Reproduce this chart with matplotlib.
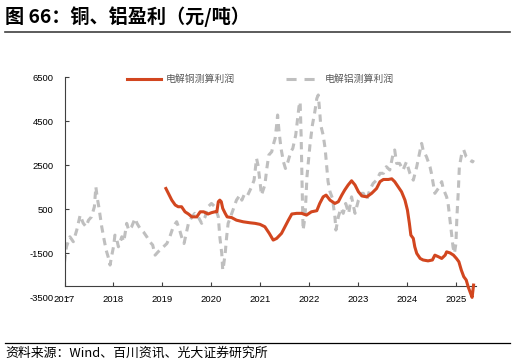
import matplotlib
matplotlib.use("Agg")
import matplotlib.pyplot as plt
from matplotlib.lines import Line2D

plt.rcParams['font.family'] = ['Liberation Sans', 'Noto Sans CJK SC', 'DejaVu Sans']

# aluminium profit (yuan/t), x in decimal years
al_x = [2017.00, 2017.04, 2017.11, 2017.18, 2017.25, 2017.32, 2017.38, 2017.44, 2017.49, 2017.55,
        2017.61, 2017.64, 2017.67, 2017.70, 2017.76, 2017.81, 2017.85, 2017.89, 2017.93, 2017.96,
        2018.00, 2018.03, 2018.07, 2018.10, 2018.17, 2018.21, 2018.27, 2018.31, 2018.37, 2018.44,
        2018.48, 2018.54, 2018.61, 2018.68, 2018.74, 2018.80, 2018.85, 2018.91, 2018.95, 2019.02,
        2019.09, 2019.15, 2019.22, 2019.29, 2019.35, 2019.39, 2019.44, 2019.47, 2019.53, 2019.60,
        2019.66, 2019.73, 2019.80, 2019.87, 2019.93, 2020.00, 2020.07, 2020.14, 2020.17, 2020.21,
        2020.23, 2020.24, 2020.28, 2020.31, 2020.34, 2020.39, 2020.45, 2020.51, 2020.58, 2020.62,
        2020.68, 2020.74, 2020.82, 2020.87, 2020.92, 2020.95, 2020.99, 2021.02, 2021.09, 2021.13,
        2021.17, 2021.23, 2021.26, 2021.30, 2021.33, 2021.35, 2021.38, 2021.42, 2021.47, 2021.51,
        2021.56, 2021.62, 2021.66, 2021.72, 2021.76, 2021.79, 2021.81, 2021.83, 2021.84, 2021.85,
        2021.87, 2021.91, 2021.95, 2022.01, 2022.06, 2022.11, 2022.15, 2022.18, 2022.21, 2022.23,
        2022.28, 2022.32, 2022.35, 2022.38, 2022.42, 2022.47, 2022.52, 2022.54, 2022.59, 2022.64,
        2022.69, 2022.74, 2022.80, 2022.86, 2022.93, 2023.00, 2023.07, 2023.10, 2023.17, 2023.23,
        2023.30, 2023.37, 2023.44, 2023.51, 2023.57, 2023.64, 2023.71, 2023.74, 2023.78, 2023.84,
        2023.91, 2023.98, 2024.05, 2024.12, 2024.19, 2024.26, 2024.29, 2024.32, 2024.39, 2024.46,
        2024.49, 2024.56, 2024.63, 2024.70, 2024.73, 2024.80, 2024.83, 2024.87, 2024.90, 2024.93,
        2024.96, 2024.99, 2025.01, 2025.04, 2025.06, 2025.11, 2025.15, 2025.20, 2025.27, 2025.33,
        2025.35]
al_y = [-1900, -1200, -745, -970, -440, 240, -120, -290, 10, 160,
        620, 1530, 1000, 620, -290, -895, -1350, -1650, -2030, -1650,
        -1200, -670, -895, -1200, -745, -970, -135, -440, -290, 90,
        -135, -360, -520, -745, -970, -1120, -1580, -1430, -1350, -1200,
        -1050, -745, -290, -60, -440, -745, -1050, -745, -135, 160,
        320, 160, -135, 160, 620, 770, 620, 160, -745, -1500,
        -2260, -2180, -1500, -745, -135, 160, 545, 920, 1150, 920,
        1230, 1150, 1530, 1830, 2820, 2510, 1760, 1150, 1610, 2360,
        2970, 3120, 3420, 3730, 4330, 4790, 4030, 3270, 2660, 2360,
        2660, 3120, 3270, 3880, 4640, 5240, 5390, 3880, 2660, 1610,
        -440, 160, 2000, 3420, 4330, 4940, 5540, 5700, 4940, 4330,
        3880, 3270, 2510, 1760, 1300, 1000, 160, -440, 160, 545,
        320, 770, 320, 1070, 320, 920, 1230, 1230, 920, 1380,
        1680, 1830, 2140, 2140, 2440, 2290, 3050, 3200, 2590, 2590,
        2290, 2660, 2140, 1830, 2440, 3200, 3500, 3200, 2890, 2440,
        2140, 1230, 1450, 1760, 1450, 1070, 770, 10, -590, -1200,
        -1500, -1050, 160, 1380, 2440, 3050, 3200, 2890, 2740, 2660,
        2740]

# copper profit (yuan/t)
cu_x = [2019.07, 2019.12, 2019.19, 2019.26, 2019.32, 2019.39, 2019.46, 2019.53, 2019.60, 2019.70,
        2019.77, 2019.84, 2019.93, 2020.00, 2020.07, 2020.11, 2020.14, 2020.17, 2020.20, 2020.23,
        2020.28, 2020.32, 2020.41, 2020.51, 2020.65, 2020.79, 2020.89, 2020.99, 2021.09, 2021.18,
        2021.26, 2021.33, 2021.43, 2021.50, 2021.57, 2021.64, 2021.74, 2021.84, 2021.94, 2022.04,
        2022.15, 2022.21, 2022.28, 2022.34, 2022.42, 2022.52, 2022.59, 2022.66, 2022.72, 2022.79,
        2022.86, 2022.93, 2023.00, 2023.07, 2023.17, 2023.27, 2023.37, 2023.44, 2023.51, 2023.61,
        2023.68, 2023.74, 2023.81, 2023.88, 2023.95, 2024.00, 2024.04, 2024.07, 2024.12, 2024.15,
        2024.19, 2024.26, 2024.32, 2024.42, 2024.51, 2024.56, 2024.63, 2024.70, 2024.77, 2024.80,
        2024.87, 2024.94, 2025.00, 2025.05, 2025.10, 2025.15, 2025.20, 2025.24, 2025.29, 2025.32,
        2025.35]
cu_y = [1450, 1230, 920, 700, 620, 620, 390, 290, 160, 160,
        390, 390, 290, 350, 390, 390, 850, 920, 850, 545,
        320, 160, 130, 10, -65, -110, -135, -180, -290, -590,
        -895, -820, -590, -290, 10, 290, 320, 320, 240, 390,
        440, 770, 1070, 1150, 920, 770, 850, 1150, 1380, 1610,
        1800, 1610, 1300, 1110, 1070, 1230, 1450, 1760, 1860, 1860,
        1890, 1760, 1530, 1300, 920, 470, -135, -670, -820, -1200,
        -1500, -1730, -1800, -1840, -1800, -1580, -1650, -1730, -1580, -1430,
        -1480, -1580, -1730, -1880, -2260, -2560, -2710, -3020, -3320, -3500,
        -2940]

years = [2017, 2018, 2019, 2020, 2021, 2022, 2023, 2024, 2025]
yticks = [-3500, -1500, 500, 2500, 4500, 6500]

al_color = "#BFBFBF"
cu_color = "#D2461F"

fig = plt.figure(figsize=(5.16, 3.64), dpi=100)
ax = fig.add_axes([0.125, 0.183, 0.7975, 0.6044])

ax.plot(al_x, al_y, color=al_color, lw=2.2, dashes=(2.4, 1.8), zorder=2)
ax.plot(cu_x, cu_y, color=cu_color, lw=2.2, zorder=3, clip_on=False)

ax.set_xlim(2017, 2025.4)
ax.set_ylim(-3500, 6500)
ax.set_xticks(years)
ax.set_xticklabels([str(y) for y in years])
ax.set_yticks(yticks)
ax.set_yticklabels([str(v) for v in yticks])

for s in ["top", "right"]:
    ax.spines[s].set_visible(False)
ax.spines["bottom"].set_position(("data", -3000))
ax.spines["left"].set_bounds(-3000, 6500)
for s in ["bottom", "left"]:
    ax.spines[s].set_color("#404040")
    ax.spines[s].set_linewidth(0.8)
ax.tick_params(axis="both", direction="in", length=3, width=0.8, color="#404040",
               labelsize=6.8, labelcolor="#000000")
ax.tick_params(axis="x", pad=6)
ax.tick_params(axis="y", pad=8)

# legend proxies (legend dashes are longer than on the dense series)
cu_h = Line2D([], [], color=cu_color, lw=2.2)
al_h = Line2D([], [], color=al_color, lw=2.2, dashes=(3.3, 2.6))
leg = ax.legend(handles=[cu_h, al_h], labels=["电解铜测算利润", "电解铝测算利润"],
                loc="upper center", bbox_to_anchor=(0.476, 1.054), ncol=2, frameon=False,
                prop={"family": ["Noto Sans CJK SC"], "size": 7.1},
                handlelength=3.4, handletextpad=0.5, columnspacing=5.2)
for t in leg.get_texts():
    t.set_color("#595959")

fig.text(0.0097, 0.955, "图 66：铜、铝盈利（元/吨）", fontsize=13.8, fontweight="bold",
         family=["Noto Sans CJK SC"], va="center", ha="left", color="#000000")
fig.add_artist(Line2D([5 / 516, 510 / 516], [1 - 31.7 / 364] * 2, color="#404040", lw=1.2))
fig.add_artist(Line2D([5 / 516, 510 / 516], [1 - 342.7 / 364] * 2, color="#000000", lw=0.9))
fig.text(0.0097, 1 - 353.5 / 364, "资料来源：Wind、百川资讯、光大证券研究所", fontsize=9.3,
         family=["Noto Sans CJK SC"], va="center", ha="left", color="#000000")

fig.savefig("out.png", dpi=100)
